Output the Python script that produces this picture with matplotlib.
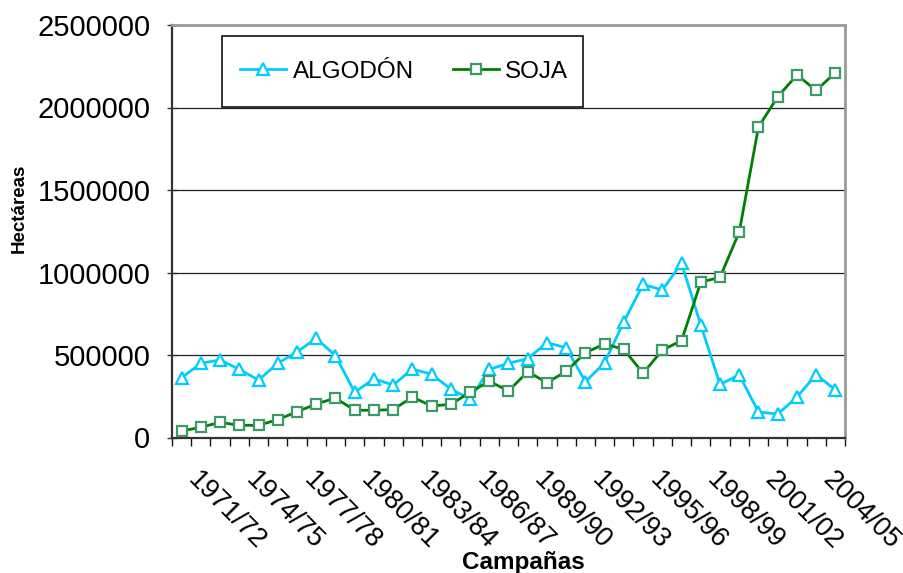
import numpy as np
import matplotlib
matplotlib.use("Agg")
import matplotlib.pyplot as plt
import matplotlib.transforms as mtransforms
from matplotlib.patches import Rectangle

plt.rcParams['font.family'] = ['Liberation Sans', 'DejaVu Sans']

# Campaigns 1970/71 .. 2004/05
campanas = [f"{y}/{str(y + 1)[-2:]}" for y in range(1970, 2005)]

algodon = [362000, 450000, 470000, 413000, 348000, 450000, 518000, 601000,
           496000, 274000, 356000, 318000, 415000, 383000, 294000, 233000,
           413000, 450000, 478000, 575000, 544000, 338000, 453000, 702000,
           928000, 894000, 1056000, 682000, 322000, 379000, 155000, 142000,
           245000, 381000, 288000]

soja = [39000, 62000, 92000, 74000, 74000, 108000, 156000, 203000,
        239000, 165000, 165000, 169000, 245000, 191000, 201000, 274000,
        341000, 282000, 399000, 332000, 401000, 514000, 567000, 534000,
        389000, 530000, 587000, 941000, 971000, 1245000, 1882000, 2065000,
        2197000, 2104000, 2211000]

yticks = [0, 500000, 1000000, 1500000, 2000000, 2500000]

W, H = 904, 573
fig = plt.figure(figsize=(W / 100, H / 100), dpi=100)
ax = fig.add_axes([172 / W, 1 - 437.5 / H, (845 - 172) / W, (437.5 - 25) / H])

x = np.arange(len(campanas))
ax.plot(x, algodon, color='#00CCFF', lw=2.0, marker='^', ms=8,
        mfc='white', mec='#00CCFF', mew=1.6, label='ALGODÓN', zorder=3)
ax.plot(x, soja, color='#008000', lw=2.0, marker='s', ms=6.5,
        mfc='white', mec='#3C9A6A', mew=1.6, label='SOJA', zorder=4)

ax.set_xlim(-0.5, len(campanas) - 0.5)
ax.set_ylim(0, 2500000)

# y axis
ax.set_yticks(yticks)
ax.set_yticklabels([str(v) for v in yticks], fontsize=21)
ax.tick_params(axis='y', direction='inout', length=7, width=1, pad=12,
               color='#333333')
for v in yticks[1:-1]:
    ax.axhline(v, color='#222222', lw=0.9, zorder=1)

# x axis: tick marks between categories, labels every third campaign
ax.set_xticks(np.arange(-0.5, len(campanas), 1), minor=True)
lab_idx = list(range(1, len(campanas), 3))
ax.set_xticks(lab_idx)
ax.set_xticklabels([campanas[i] for i in lab_idx], fontsize=19.5,
                   rotation=-45, ha='left', va='top', rotation_mode='anchor')
ax.tick_params(axis='x', which='major', length=0, pad=21)
ax.tick_params(axis='x', which='minor', direction='out', length=6, width=1,
               color='#111111')
offset = mtransforms.ScaledTranslation(0.5 / 100, 0, fig.dpi_scale_trans)
for lbl in ax.get_xticklabels():
    lbl.set_transform(lbl.get_transform() + offset)

for side in ('left', 'bottom'):
    ax.spines[side].set_color('#333333')
    ax.spines[side].set_linewidth(1.6)
for side in ('right', 'top'):
    ax.spines[side].set_color('#999999')
    ax.spines[side].set_linewidth(2.0)

fig.text(523 / W, 1 - 562 / H, 'Campañas', fontsize=17.5, fontweight='bold',
         ha='center', va='center')
fig.text(19 / W, 1 - 208 / H, 'Hectáreas', fontsize=13.5, fontweight='bold',
         ha='center', va='center', rotation=90)

# legend box
fig.patches.append(Rectangle((222 / W, 1 - 107 / H), (583 - 222) / W,
                             (107 - 36) / H, transform=fig.transFigure,
                             facecolor='white', edgecolor='#111111', lw=1.2,
                             zorder=5))
leg = fig.legend(loc='center', bbox_to_anchor=(404 / W, 1 - 72 / H),
                 ncol=2, frameon=False, fontsize=17.5, handlelength=1.9,
                 handletextpad=0.25, columnspacing=1.6)
leg.set_zorder(6)

fig.savefig('out.png', dpi=100)
